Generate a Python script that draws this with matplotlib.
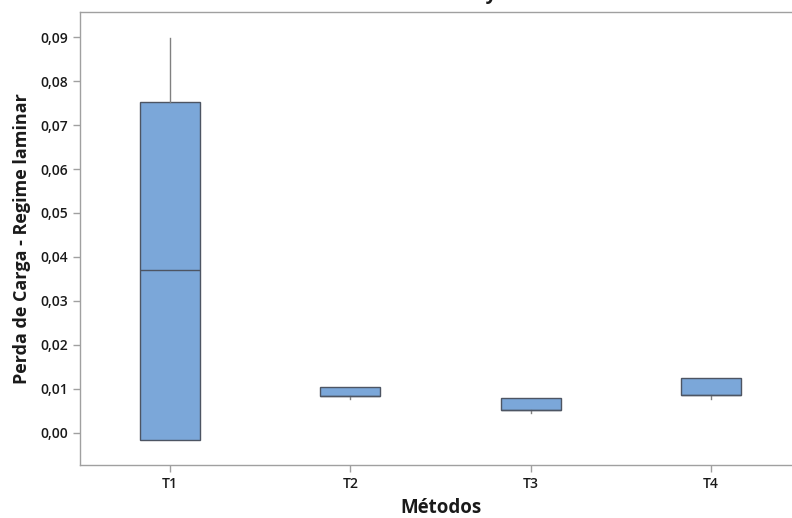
import matplotlib
matplotlib.use("Agg")
import matplotlib.pyplot as plt
from matplotlib.ticker import FuncFormatter

plt.rcParams['font.family'] = ['Open Sans', 'DejaVu Sans']

# Data
metodos = ["T1", "T2", "T3", "T4"]
q1 = [-0.0016, 0.0083, 0.0051, 0.0086]
mediana = [0.0370, 0.0083, 0.0051, 0.0086]
q3 = [0.0752, 0.0104, 0.0080, 0.0125]
minimo = [-0.0016, 0.0077, 0.0045, 0.0077]
maximo = [0.0898, 0.0104, 0.0080, 0.0125]
y_ticks = [0.00, 0.01, 0.02, 0.03, 0.04, 0.05, 0.06, 0.07, 0.08, 0.09]

W, H = 792, 518
fig = plt.figure(figsize=(W / 100, H / 100), dpi=100)
# axes run past the right edge, as in the cropped original
ax = fig.add_axes([80 / W, 1 - 465 / H, 721 / W, 453 / H])

stats = []
for i, m in enumerate(metodos):
    stats.append(dict(label=m, med=mediana[i], q1=q1[i], q3=q3[i],
                      whislo=minimo[i], whishi=maximo[i], fliers=[]))

ax.bxp(stats, positions=range(1, len(metodos) + 1), widths=0.333,
       patch_artist=True, showcaps=False,
       boxprops=dict(facecolor="#7BA7D9", edgecolor="#4D5563", linewidth=1.0),
       medianprops=dict(color="#4D5563", linewidth=1.0),
       whiskerprops=dict(color="#808080", linewidth=1.0))

ax.set_xlim(0.5, 4.5)
ax.set_ylim(-0.0073, 0.0957)
ax.set_yticks(y_ticks)
ax.yaxis.set_major_formatter(FuncFormatter(lambda v, p: ("%.2f" % v).replace(".", ",")))

for s in ["left", "top", "bottom", "right"]:
    ax.spines[s].set_color("#A0A0A0")
    ax.spines[s].set_linewidth(1.0)
ax.tick_params(axis="both", colors="#A0A0A0", length=5, width=1.0,
               labelcolor="#1A1A1A", labelsize=10)
for lab in ax.get_xticklabels() + ax.get_yticklabels():
    lab.set_fontweight("semibold")

ax.set_xlabel("Métodos", fontsize=13.5, fontweight="bold", color="#1A1A1A", labelpad=5)
ax.set_ylabel("Perda de Carga - Regime laminar", fontsize=13, fontweight="bold",
              color="#1A1A1A", labelpad=7)

# title is cut off by the top edge in the original
fig.text(425 / W, 1 + 1 / H, "Teste de Tukey", ha="center", va="baseline",
         fontsize=14, fontweight="bold", color="#1A1A1A")

fig.savefig("out.png", dpi=100)
